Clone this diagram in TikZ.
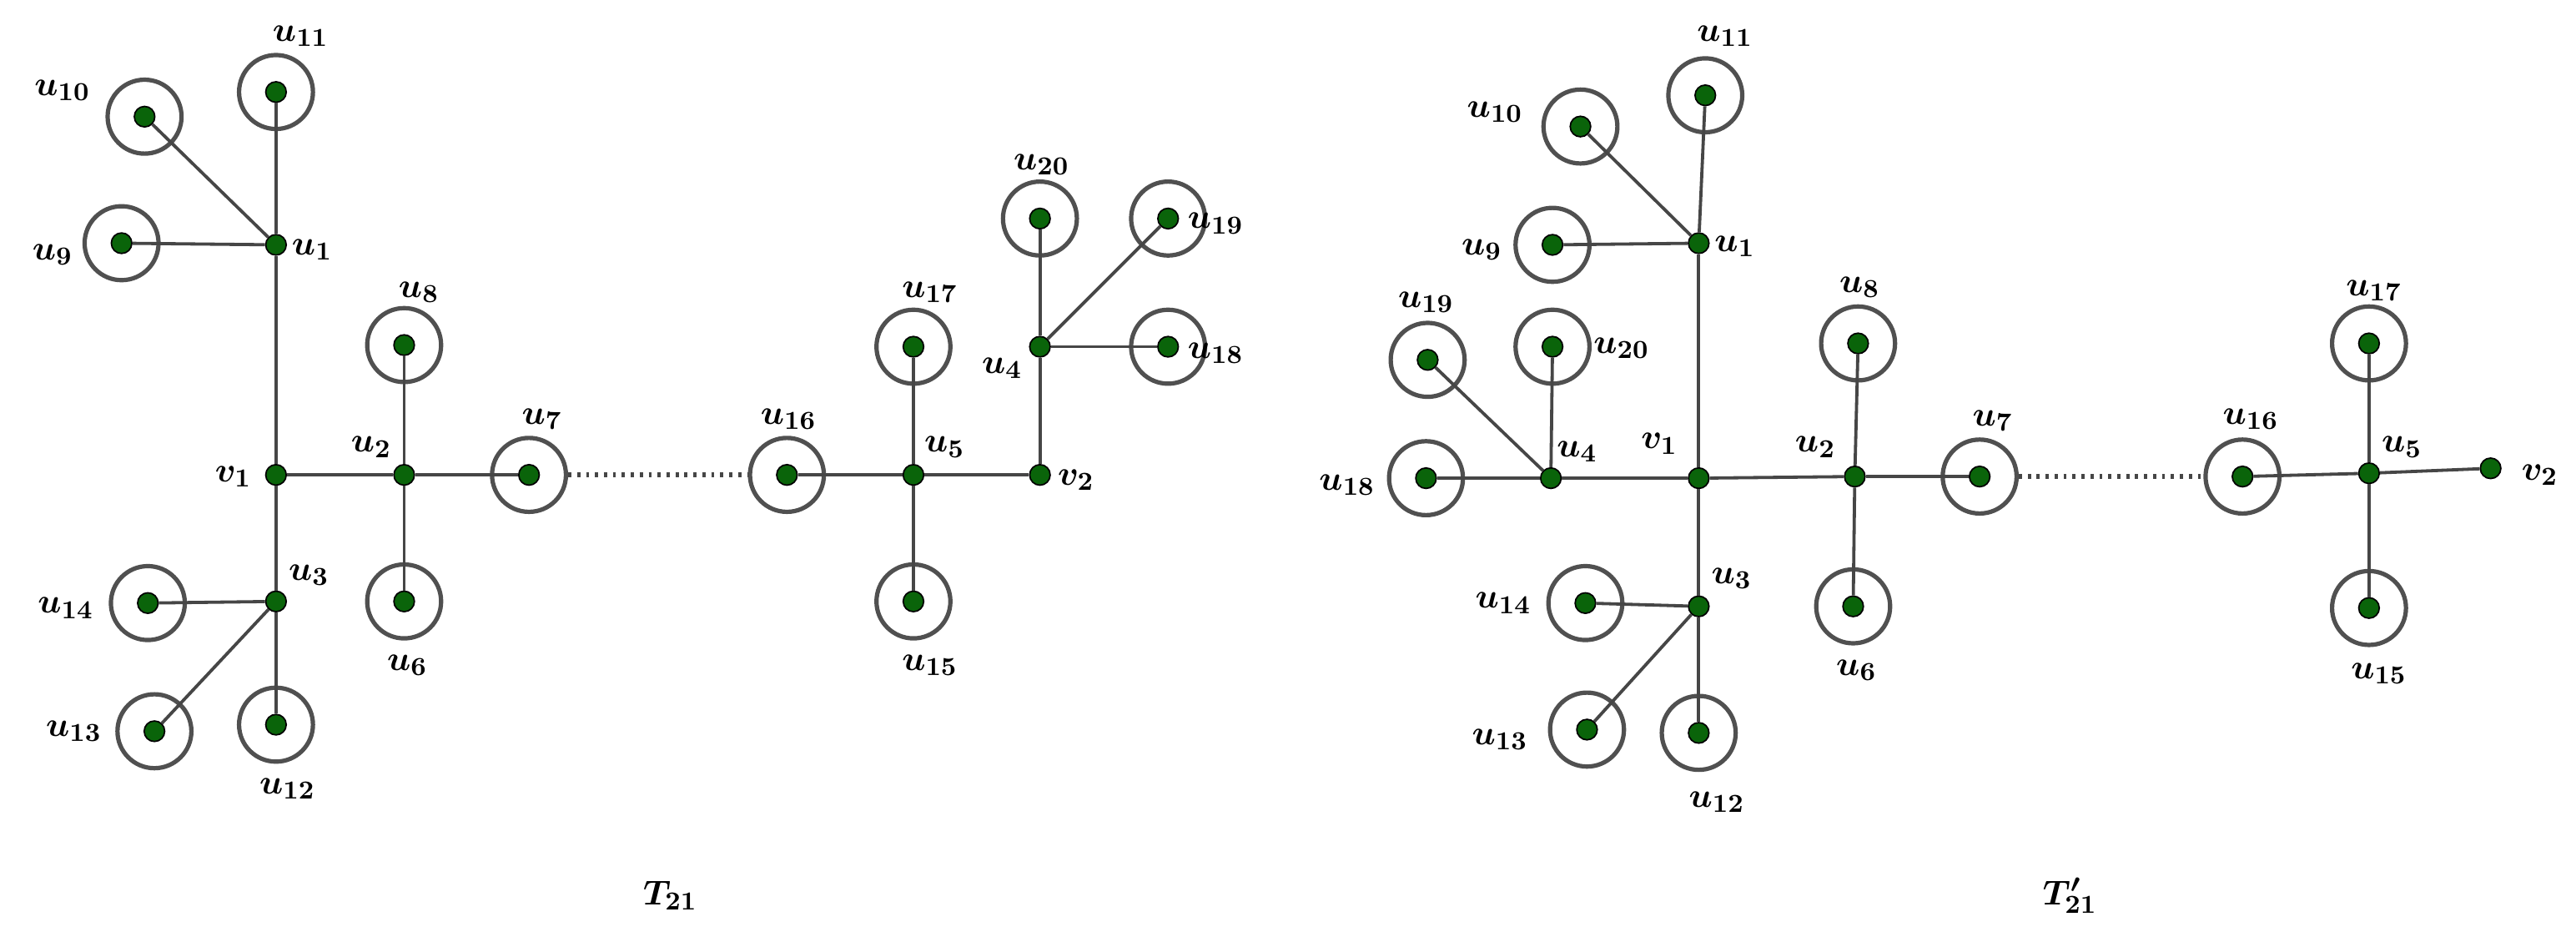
\documentclass[tikz,border=0pt]{standalone}
\usepackage{bm}
\begin{document}
\begin{tikzpicture}[x=0.02cm,y=-0.02cm,
 dot/.style={circle,fill={rgb,255:red,10;green,100;blue,10},draw=black,line width=0.5pt,inner sep=0pt,minimum size=0.25cm},
 ring/.style={circle,draw={rgb,255:red,80;green,80;blue,80},line width=1.5pt,inner sep=0pt,minimum size=0.9cm},
 edge/.style={draw={rgb,255:red,70;green,70;blue,70},line width=1.1pt},
 lab/.style={font=\fontsize{13}{15}\selectfont,inner sep=0pt}]
\useasboundingbox (0,0) rectangle (1568,564);
\newcommand{\V}[4]{\node[dot] (#1) at (#2,#3) {};\ifnum#4=1 \node[ring] (#1r) at (#2,#3) {};\fi}
\newcommand{\Lb}[4]{\node[lab] (#1l) at (#2,#3) {$\bm{#4}$};}
% left tree
\V{a1}{168}{149}{0}\V{a11}{168}{56}{1}\V{a10}{88}{71}{1}\V{a9}{74}{148}{1}
\V{av1}{168}{289}{0}\V{a2}{246}{289}{0}\V{a8}{246}{210}{1}\V{a6}{246}{366}{1}
\V{a7}{322}{289}{1}\V{a3}{168}{366}{0}\V{a14}{90}{367}{1}\V{a13}{94}{445}{1}
\V{a12}{168}{441}{1}\V{a16}{479}{289}{1}\V{a5}{556}{289}{0}\V{a17}{556}{211}{1}
\V{a15}{556}{366}{1}\V{av2}{633}{289}{0}\V{a4}{633}{211}{0}\V{a20}{633}{133}{1}
\V{a19}{711}{133}{1}\V{a18}{711}{211}{1}
\foreach \p/\q in {a1/a11,a1/a10,a1/a9,a1/av1,av1/a2,a2/a8,a2/a6,a2/a7,av1/a3,a3/a14,a3/a13,a3/a12,a16/a5,a5/a17,a5/a15,a5/av2,av2/a4,a4/a20,a4/a19,a4/a18}
 \draw[edge] (\p) -- (\q);
\draw[edge,dotted,line width=1.6pt] (a7r) -- (a16r);
\Lb{a11}{183}{22}{u_{11}}\Lb{a10}{38}{55}{u_{10}}\Lb{a9}{32}{155}{u_{9}}\Lb{a1}{190}{152}{u_{1}}
\Lb{a8}{255}{178}{u_{8}}\Lb{av1}{142}{290}{v_{1}}\Lb{a2}{226}{272}{u_{2}}\Lb{a7}{330}{255}{u_{7}}
\Lb{a3}{188}{350}{u_{3}}\Lb{a14}{40}{370}{u_{14}}\Lb{a13}{45}{445}{u_{13}}\Lb{a12}{175}{480}{u_{12}}
\Lb{a6}{248}{405}{u_{6}}\Lb{a16}{480}{255}{u_{16}}\Lb{a5}{575}{272}{u_{5}}\Lb{a17}{566}{178}{u_{17}}
\Lb{a15}{566}{405}{u_{15}}\Lb{av2}{655}{292}{v_{2}}\Lb{a4}{610}{224}{u_{4}}\Lb{a20}{634}{100}{u_{20}}
\Lb{a19}{740}{136}{u_{19}}\Lb{a18}{740}{215}{u_{18}}
\node[lab] (t1) at (408,545) {$\bm{T_{21}}$};
% right tree
\V{b1}{1034}{148}{0}\V{b11}{1038}{58}{1}\V{b10}{962}{77}{1}\V{b9}{945}{149}{1}
\V{bv1}{1034}{291}{0}\V{b2}{1129}{290}{0}\V{b8}{1131}{209}{1}\V{b6}{1128}{369}{1}
\V{b7}{1205}{290}{1}\V{b3}{1034}{369}{0}\V{b14}{965}{367}{1}\V{b13}{966}{444}{1}
\V{b12}{1034}{446}{1}\V{b4}{944}{291}{0}\V{b19}{869}{219}{1}\V{b20}{945}{211}{1}
\V{b18}{868}{291}{1}\V{b16}{1365}{290}{1}\V{b5}{1442}{288}{0}\V{b17}{1442}{209}{1}
\V{b15}{1442}{370}{1}\V{bv2}{1516}{285}{0}
\foreach \p/\q in {b1/b11,b1/b10,b1/b9,b1/bv1,bv1/b2,b2/b8,b2/b6,b2/b7,bv1/b3,b3/b14,b3/b13,b3/b12,bv1/b4,b4/b19,b4/b20,b4/b18,b16/b5,b5/b17,b5/b15,b5/bv2}
 \draw[edge] (\p) -- (\q);
\draw[edge,dotted,line width=1.6pt] (b7r) -- (b16r);
\Lb{b11}{1050}{22}{u_{11}}\Lb{b10}{910}{68}{u_{10}}\Lb{b9}{902}{152}{u_{9}}\Lb{b1}{1056}{150}{u_{1}}
\Lb{b19}{868}{184}{u_{19}}\Lb{b20}{987}{212}{u_{20}}\Lb{b4}{960}{275}{u_{4}}\Lb{bv1}{1010}{270}{v_{1}}
\Lb{b2}{1105}{272}{u_{2}}\Lb{b8}{1132}{175}{u_{8}}\Lb{b7}{1213}{256}{u_{7}}\Lb{b18}{820}{295}{u_{18}}
\Lb{b14}{915}{367}{u_{14}}\Lb{b3}{1054}{352}{u_{3}}\Lb{b13}{913}{450}{u_{13}}\Lb{b12}{1045}{488}{u_{12}}
\Lb{b6}{1130}{408}{u_{6}}\Lb{b16}{1370}{255}{u_{16}}\Lb{b5}{1462}{272}{u_{5}}\Lb{b17}{1445}{177}{u_{17}}
\Lb{b15}{1448}{410}{u_{15}}\Lb{bv2}{1546}{289}{v_{2}}
\node[lab] (t2) at (1260,545) {$\bm{T'_{21}}$};
\end{tikzpicture}
\end{document}
